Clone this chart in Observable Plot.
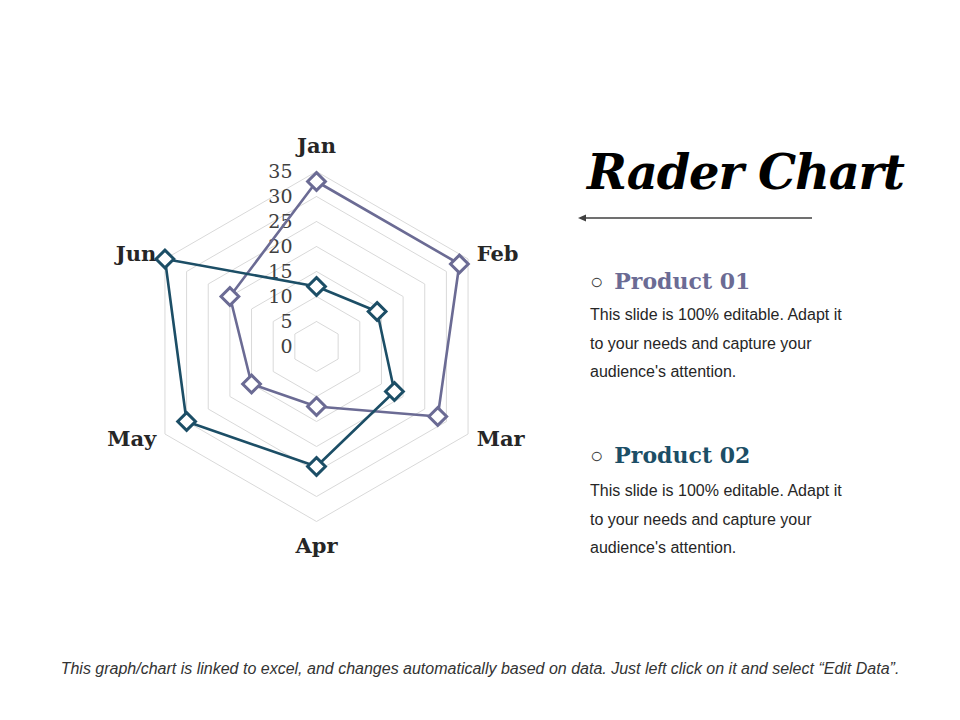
<!DOCTYPE html>
<html>
<head>
<meta charset="utf-8">
<script src="https://cdn.jsdelivr.net/npm/d3@7"></script>
<script src="https://cdn.jsdelivr.net/npm/@observablehq/plot@0.6"></script>
<style>
  html, body { margin: 0; padding: 0; background: #fff; }
  #wrap { position: relative; width: 960px; height: 720px; overflow: hidden; }
  #chart { position: absolute; left: 0; top: 0; }
  .abs { position: absolute; white-space: nowrap; }
  #title { left: 587px; top: 144px; font-family: "DejaVu Serif", serif; font-weight: bold; font-style: italic; font-size: 48px; color: #000; letter-spacing: -1.2px; }
  #arrow { left: 574px; top: 210px; }
  .ph { font-family: "DejaVu Serif", serif; font-weight: bold; font-size: 22px; }
  .bullet { font-family: "Liberation Sans", Arial, sans-serif; font-size: 22px; color: #444; margin-right: 11px; font-weight: normal; }
  .body { font-family: "Liberation Sans", Arial, sans-serif; font-size: 16px; color: #262626; line-height: 28.5px; }
  #foot { left: 0; width: 960px; top: 660px; text-align: center; font-family: "Liberation Sans Narrow", "Liberation Sans", Arial, sans-serif; font-style: italic; font-size: 16px; color: #333; }
</style>
</head>
<body>
<div id="wrap">
  <div id="chart"></div>
  <div class="abs" id="title">Rader Chart</div>
  <svg class="abs" id="arrow" width="245" height="16"><line x1="8" y1="8" x2="238" y2="8" stroke="#404040" stroke-width="1.3"/><path d="M4,8 L12,4.5 L12,11.5 Z" fill="#404040"/></svg>
  <div class="abs ph" style="left:590px; top:268px; color:#6b6b94;"><span class="bullet">○</span>Product 01</div>
  <div class="abs body" style="left:590px; top:301px;">This slide is 100% editable. Adapt it<br>to your needs and capture your<br>audience's attention.</div>
  <div class="abs ph" style="left:590px; top:442px; color:#1c4e66;"><span class="bullet">○</span>Product 02</div>
  <div class="abs body" style="left:590px; top:477px;">This slide is 100% editable. Adapt it<br>to your needs and capture your<br>audience's attention.</div>
  <div class="abs" id="foot">This graph/chart is linked to excel, and changes automatically based on data. Just left click on it and select “Edit Data”.</div>
</div>
<script>
const months = ["Jan", "Feb", "Mar", "Apr", "May", "Jun"];
const product01 = [33, 33, 28, 12, 15, 20];
const product02 = [12, 14, 18, 24, 30, 35];
const seriesNames = ["Product 01", "Product 02"];
const seriesColors = ["#6b6b94", "#1c4e66"];
const gridLevels = [5, 10, 15, 20, 25, 30, 35];
const tickLabels = [0, 5, 10, 15, 20, 25, 30, 35];

const n = months.length;
const ang = i => (i * 2 * Math.PI) / n;
const px = (i, v) => v * Math.sin(ang(i));
const py = (i, v) => v * Math.cos(ang(i));

// grid polygons (closed)
const grid = [];
for (const lv of gridLevels) {
  for (let k = 0; k <= n; k++) {
    const i = k % n;
    grid.push({ level: lv, x: px(i, lv), y: py(i, lv) });
  }
}

// series lines (closed) and points
const seriesVals = [product01, product02];
const lines = [], pts = [];
seriesVals.forEach((vals, s) => {
  for (let k = 0; k <= n; k++) {
    const i = k % n;
    lines.push({ series: seriesNames[s], x: px(i, vals[i]), y: py(i, vals[i]) });
  }
  vals.forEach((v, i) => pts.push({ series: seriesNames[s], x: px(i, v), y: py(i, v) }));
});

// month labels
const labelData = months.map((m, i) => {
  const s = Math.sin(ang(i));
  const vertical = Math.abs(s) < 1e-6;
  const r = vertical ? 40 : 37;
  return { label: m, x: px(i, r), y: py(i, r), anchor: vertical ? "middle" : (s > 0 ? "start" : "end") };
});

const ticks = tickLabels.map(t => ({ label: String(t), x: 0, y: t }));

const colorScale = { domain: seriesNames, range: seriesColors };

const chart = Plot.plot({
  width: 960,
  height: 720,
  margin: 0,
  x: { domain: [-316 / 5, (960 - 316) / 5], range: [0, 960], axis: null },
  y: { domain: [-(720 - 346) / 5, 346 / 5], range: [720, 0], axis: null },
  color: colorScale,
  style: { background: "transparent", overflow: "visible" },
  marks: [
    Plot.line(grid, { x: "x", y: "y", z: "level", stroke: "#d9d9d9", strokeWidth: 1 }),
    Plot.text(ticks, { x: "x", y: "y", text: "label", textAnchor: "end", dx: -24, fontSize: 19, fill: "#404040", fontFamily: "DejaVu Serif, serif" }),
    Plot.line(lines, { x: "x", y: "y", z: "series", stroke: "series", strokeWidth: 2.6 }),
    Plot.dot(pts, { x: "x", y: "y", stroke: "series", fill: "white", symbol: "diamond2", r: 8, strokeWidth: 3 }),
    ...["start", "middle", "end"].map(a =>
      Plot.text(labelData.filter(d => d.anchor === a), { x: "x", y: "y", text: "label", textAnchor: a, fontSize: 21, fontWeight: "bold", fill: "#262626", fontFamily: "DejaVu Serif, serif" })
    )
  ]
});
document.getElementById("chart").appendChild(chart);
</script>
</body>
</html>
